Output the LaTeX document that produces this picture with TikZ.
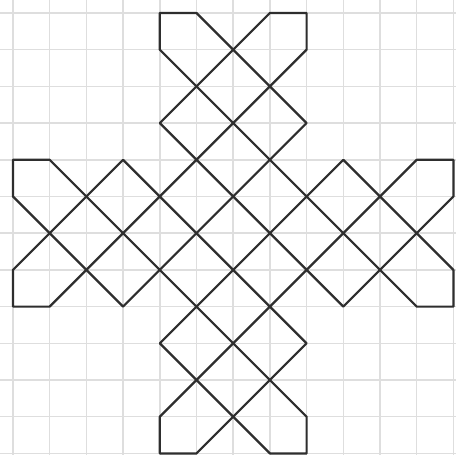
\documentclass[tikz,border=0pt]{standalone}
\begin{document}
\begin{tikzpicture}[x=1cm,y=-1cm,
  gridline/.style={draw=black!13,line width=1.1pt},
  knot/.style={draw=black!82,line width=1.7pt,line join=round,line cap=round}]
\useasboundingbox[fill=white] (-0.354,-0.354) rectangle (12.071,12.044);
\foreach \c in {0,...,12} {\draw[gridline] (\c,-0.354) -- (\c,12.044);}
\foreach \r in {0,...,12} {\draw[gridline] (-0.354,\r) -- (12.071,\r);}
\draw[knot] (5,0) -- (8,3) -- (3,8) -- (0,5) -- (0,4) -- (1,4) -- (8,11) -- (8,12)
  -- (7,12) -- (4,9) -- (9,4) -- (12,7) -- (12,8) -- (11,8) -- (4,1) -- (4,0) -- cycle;
\draw[knot] (7,0) -- (4,3) -- (9,8) -- (12,5) -- (12,4) -- (11,4) -- (4,11) -- (4,12)
  -- (5,12) -- (8,9) -- (3,4) -- (0,7) -- (0,8) -- (1,8) -- (8,1) -- (8,0) -- cycle;
\end{tikzpicture}
\end{document}
